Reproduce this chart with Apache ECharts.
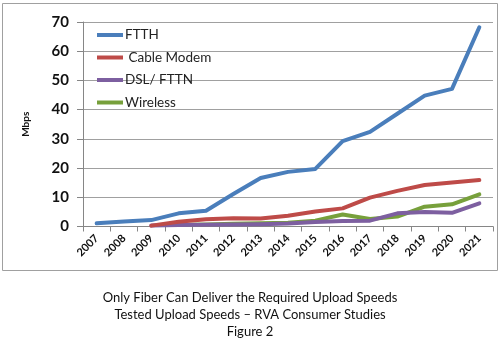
<!DOCTYPE html>
<html>
<head>
<meta charset="utf-8">
<script src="https://cdn.jsdelivr.net/npm/echarts@6/dist/echarts.min.js"></script>
<style>
html,body{margin:0;padding:0;background:#fff;}
#chart{width:500px;height:345px;}
</style>
</head>
<body>
<div id="chart"></div>
<script>
const years = ['2007','2008','2009','2010','2011','2012','2013','2014','2015','2016','2017','2018','2019','2020','2021'];
const ftth = [1.1, 1.7, 2.2, 4.5, 5.4, 11.1, 16.6, 18.7, 19.7, 29.2, 32.4, 38.6, 44.8, 47.1, 68.2];
const cable = [null, null, 0.3, 1.6, 2.5, 2.8, 2.7, 3.7, 5.1, 6.2, 9.9, 12.2, 14.2, 15.1, 15.9];
const dsl = [null, null, 0.3, 0.5, 0.6, 0.7, 0.8, 1.0, 1.5, 1.9, 2.0, 4.5, 5.0, 4.7, 7.9];
const wireless = [null, null, null, 0.5, 0.7, 0.9, 1.1, 1.3, 2.0, 4.1, 2.6, 3.4, 6.8, 7.6, 11.0];
const seriesNames = ['FTTH', 'Cable Modem', 'DSL/ FTTN', 'Wireless'];
const yTicks = [0, 10, 20, 30, 40, 50, 60, 70];
const captionLines = ['Only Fiber Can Deliver the Required Upload Speeds', 'Tested Upload Speeds \u2013 RVA Consumer Studies', 'Figure 2'];

const colors = ['#4A7EBB', '#BE4B48', '#7D5FA0', '#77A03B'];
const font = 'Lato, "Open Sans", sans-serif';
const chart = echarts.init(document.getElementById('chart'), null, {renderer: 'canvas'});
const values = [ftth, cable, dsl, wireless];

chart.setOption({
  animation: false,
  backgroundColor: '#fff',
  color: colors,
  grid: {left: 83, right: 7, top: 22, bottom: 118.5},
  legend: {
    orient: 'vertical', left: 92, top: 22, itemWidth: 26, itemHeight: 4, itemGap: 6.5,
    icon: 'rect',
    data: seriesNames,
    formatter: n => n === 'Cable Modem' ? ' ' + n : n,
    textStyle: {fontFamily: font, fontSize: 13.5, color: '#222', lineHeight: 16, padding: [0,0,0,-3]}
  },
  xAxis: {
    type: 'category', data: years, boundaryGap: true,
    axisLine: {lineStyle: {color: '#868686', width: 1}},
    axisTick: {show: true, length: 5, alignWithLabel: false, lineStyle: {color: '#868686'}},
    axisLabel: {rotate: 45, interval: 0, fontFamily: font, fontWeight: 'bold', fontSize: 11, color: '#111', margin: 10}
  },
  yAxis: {
    type: 'value', min: yTicks[0], max: yTicks[yTicks.length - 1], interval: 10,
    name: 'Mbps', nameLocation: 'middle', nameGap: 52, nameRotate: 90,
    nameTextStyle: {fontFamily: font, fontWeight: 'bold', fontSize: 10, color: '#111'},
    axisLine: {show: true, lineStyle: {color: '#868686'}},
    axisTick: {show: true, length: 6, lineStyle: {color: '#868686'}},
    splitLine: {lineStyle: {color: '#A0A0A0', width: 1}},
    axisLabel: {fontFamily: font, fontWeight: 'bold', fontSize: 15, color: '#111', margin: 14}
  },
  series: seriesNames.map((n, i) => ({
    name: n, type: 'line', data: values[i], showSymbol: false, symbol: 'none',
    connectNulls: false, lineStyle: {width: 4, color: colors[i], cap: 'round', join: 'round'},
    itemStyle: {color: colors[i]}, z: 10 - i
  })),
  graphic: [
    {type: 'rect', shape: {x: 2.5, y: 3.5, width: 495, height: 267}, style: {fill: null, stroke: '#A0A0A0', lineWidth: 1}, silent: true},
    ...captionLines.map((t, i) => ({
      type: 'text', x: 250, y: 298 + i * 17,
      style: {text: t, fontFamily: font, fontSize: 13, fill: '#111', textAlign: 'center', textVerticalAlign: 'middle'}
    }))
  ]
});
</script>
</body>
</html>
